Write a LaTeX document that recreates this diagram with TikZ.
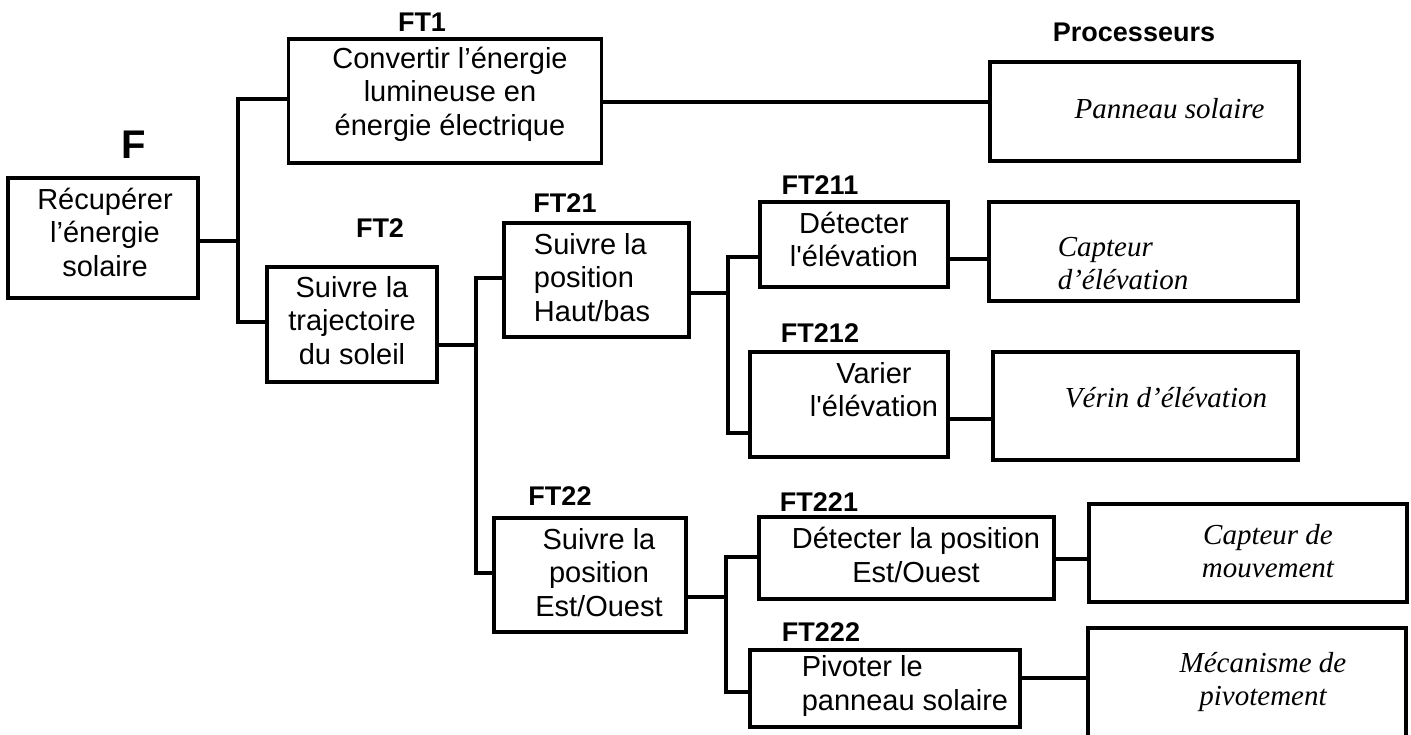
\documentclass[tikz,border=0pt]{standalone}
\usepackage{fontspec}
\setmainfont{Liberation Serif}
\setsansfont{Liberation Sans}
\tikzset{
  fbox/.style={draw, line width=3.5pt, inner sep=0pt},
  ftxt/.style={font=\sffamily\fontsize{29}{33.5}\selectfont, align=center, inner sep=0pt},
  ptxt/.style={font=\rmfamily\itshape\fontsize{29}{33}\selectfont, align=center, inner sep=0pt},
  tag/.style={font=\sffamily\bfseries\fontsize{27}{30}\selectfont, inner sep=0pt},
  link/.style={line width=3.5pt},
}

\begin{document}
\begin{tikzpicture}[x=1pt,y=-1pt]
  \useasboundingbox (0,0) rectangle (1411,735);

  % function boxes
  \node[fbox, minimum width=190pt, minimum height=120pt] (f)     at (103,238)   {};
  \node[fbox, minimum width=313pt, minimum height=124pt] (ft1)   at (445,101)   {};
  \node[fbox, minimum width=170pt, minimum height=115pt] (ft2)   at (352,324.5) {};
  \node[fbox, minimum width=185pt, minimum height=114pt] (ft21)  at (596.5,280) {};
  \node[fbox, minimum width=192pt, minimum height=114pt] (ft22)  at (590,575)   {};
  \node[fbox, minimum width=188pt, minimum height=85pt]  (ft211) at (854,244.5) {};
  \node[fbox, minimum width=198pt, minimum height=105pt] (ft212) at (849,404.5) {};
  \node[fbox, minimum width=295pt, minimum height=82pt]  (ft221) at (906.5,558) {};
  \node[fbox, minimum width=270pt, minimum height=77pt]  (ft222) at (885,688.5) {};

  % processeurs
  \node[fbox, minimum width=309pt, minimum height=99pt]  (pan)  at (1144.5,111.5) {};
  \node[fbox, minimum width=309pt, minimum height=99pt]  (cap1) at (1143.5,251.5) {};
  \node[fbox, minimum width=305pt, minimum height=108pt] (ver)  at (1145.5,406)   {};
  \node[fbox, minimum width=318pt, minimum height=98pt]  (cap2) at (1248,553)     {};
  \node[fbox, minimum width=318pt, minimum height=118pt] (meca) at (1247,687)     {};

  % texts
  \node[ftxt] (ftext)     at ([shift={(2,-6)}]f.center)      {Récupérer\\l’énergie\\solaire};
  \node[ftxt] (ft1text)   at ([shift={(5,-7)}]ft1.center)    {Convertir l’énergie\\lumineuse en\\énergie électrique};
  \node[ftxt] (ft2text)   at ([shift={(0,-4)}]ft2.center)    {Suivre la\\trajectoire\\du soleil};
  \node[ftxt, align=left] (ft21text) at ([shift={(-4.5,-2.5)}]ft21.center) {Suivre la\\position\\Haut/bas};
  \node[ftxt] (ft211text) at ([shift={(0,-5)}]ft211.center)  {Détecter\\l\textquotesingle élévation};
  \node[ftxt] (ft212text) at ([shift={(25,-15)}]ft212.center) {Varier\\l\textquotesingle élévation};
  \node[ftxt] (ft22text)  at ([shift={(9,-2.5)}]ft22.center) {Suivre la\\position\\Est/Ouest};
  \node[ftxt] (ft221text) at ([shift={(9.5,-3)}]ft221.center) {Détecter la position\\Est/Ouest};
  \node[ftxt, align=left] (ft222text) at ([shift={(20,-2.5)}]ft222.center) {Pivoter le\\panneau solaire};

  \node[ptxt] (pantext)  at ([shift={(25,-3)}]pan.center)    {Panneau solaire};
  \node[ptxt, align=left] (cap1text) at ([shift={(-20.5,12.5)}]cap1.center) {Capteur\\d’élévation};
  \node[ptxt] (vertext)  at ([shift={(20.5,-8)}]ver.center)  {Vérin d’élévation};
  \node[ptxt] (cap2text) at ([shift={(20,-2)}]cap2.center)   {Capteur de\\mouvement};
  \node[ptxt] (mecatext) at ([shift={(16,-5)}]meca.center)   {Mécanisme de\\pivotement};

  % tags
  \node[tag, font=\sffamily\bfseries\fontsize{40}{44}\selectfont] (tF) at (134,145) {F};
  \node[tag] (tProc) at (1134,32) {Processeurs};
  \foreach \n/\x/\y in {FT1/422/22, FT2/380/228, FT21/565/203, FT211/820/185,
                        FT212/820/333, FT22/560/496, FT221/819/502, FT222/821/632}
    \node[tag] (t\n) at (\x,\y) {\n};

  % links
  \coordinate (b0)  at (238,241);
  \coordinate (b2)  at (476,345);
  \coordinate (b21) at (728,293);
  \coordinate (b22) at (726,597);

  \draw[link] (f.east |- b0) -- (b0);
  \draw[link] (ft1.west |- 0,99) -| (b0) |- (ft2.west |- 0,322);
  \draw[link] (ft2.east |- b2) -- (b2);
  \draw[link] (ft21.west |- 0,278) -| (b2) |- (ft22.west |- 0,573);
  \draw[link] (ft21.east |- b21) -- (b21);
  \draw[link] (ft211.west |- 0,257) -| (b21) |- (ft212.west |- 0,433);
  \draw[link] (ft22.east |- b22) -- (b22);
  \draw[link] (ft221.west |- 0,557) -| (b22) |- (ft222.west |- 0,692);
  \foreach \a/\b/\y in {ft1/pan/102, ft211/cap1/259, ft212/ver/419,
                        ft221/cap2/559, ft222/meca/678}
    \draw[link] (\a.east |- 0,\y) -- (\b.west |- 0,\y);

\end{tikzpicture}
\end{document}
